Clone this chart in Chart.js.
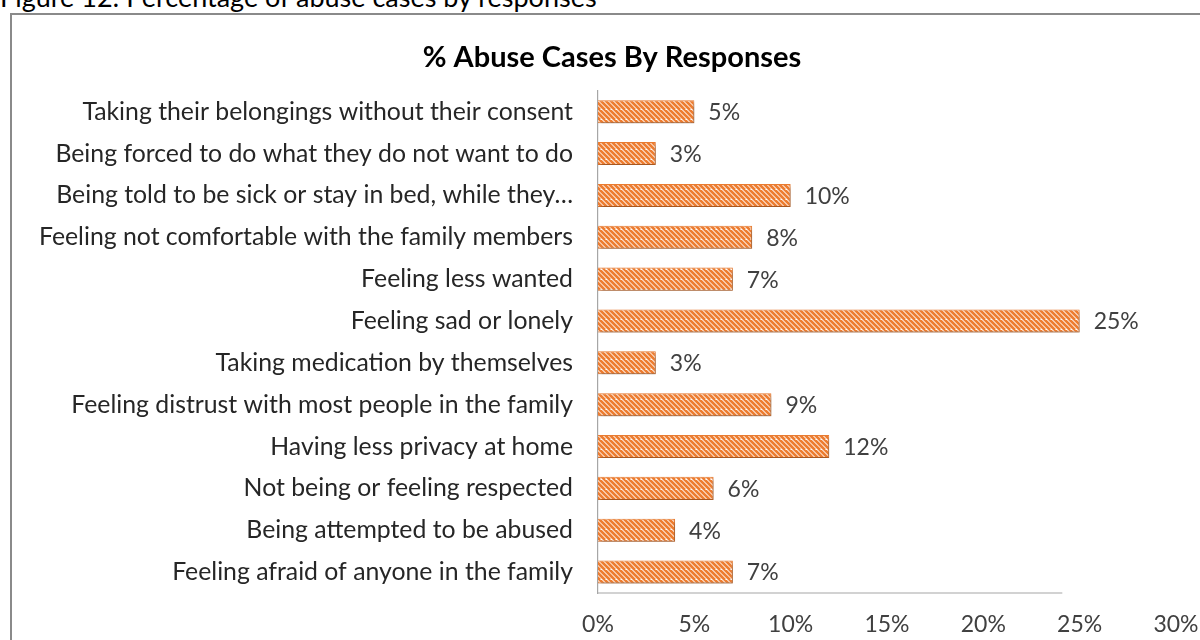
<!DOCTYPE html>
<html lang="en">
<head>
    <meta charset="UTF-8">
    <title>% Abuse Cases By Responses</title>
    <style>
        body {
            margin: 0;
            width: 1200px;
            height: 640px;
            overflow: hidden;
            background: #fff;
            position: relative;
            font-family: Lato, "Open Sans", sans-serif;
        }
        .caption {
            position: absolute;
            left: 0;
            top: -17px;
            font-size: 27px;
            line-height: 27px;
            color: #000;
            white-space: nowrap;
        }
        .frame {
            position: absolute;
            left: 10px;
            top: 13px;
            width: 1300px;
            height: 700px;
            border: 2px solid #8a8a8a;
        }
        #chart {
            position: absolute;
            left: 0;
            top: 0;
        }
    </style>
    <script src="https://cdn.jsdelivr.net/npm/chart.js"></script>
</head>
<body>
    <div class="caption">Figure 12: Percentage of abuse cases by responses</div>
    <div class="frame"></div>
    <canvas id="chart" width="1200" height="640"></canvas>

    <script>
        const categories = [
            'Taking their belongings without their consent',
            'Being forced to do what they do not want to do',
            'Being told to be sick or stay in bed, while they\u2026',
            'Feeling not comfortable with the family members',
            'Feeling less wanted',
            'Feeling sad or lonely',
            'Taking medication by themselves',
            'Feeling distrust with most people in the family',
            'Having less privacy at home',
            'Not being or feeling respected',
            'Being attempted to be abused',
            'Feeling afraid of anyone in the family'
        ];
        const percentages = [5, 3, 10, 8, 7, 25, 3, 9, 12, 6, 4, 7];
        const tickValues = [0, 5, 10, 15, 20, 25, 30];

        const orange = '#ed7d31';
        const textColor = '#404040';
        const fontFamily = 'Lato, "Open Sans", sans-serif';

        // wide downward diagonal hatch fill
        function makeHatch() {
            const size = 10;
            const c = document.createElement('canvas');
            c.width = size;
            c.height = size;
            const g = c.getContext('2d');
            g.fillStyle = '#fff';
            g.fillRect(0, 0, size, size);
            g.strokeStyle = orange;
            g.lineWidth = 2.7;
            g.beginPath();
            for (let k = -size * 2; k <= size * 2; k += size / 2) {
                g.moveTo(k, 0 - size);
                g.lineTo(k + size * 2, size);
            }
            g.stroke();
            return document.getElementById('chart').getContext('2d').createPattern(c, 'repeat');
        }

        // soft drop shadow under the bars
        const barShadow = {
            id: 'barShadow',
            beforeDatasetsDraw(chart) {
                const ctx = chart.ctx;
                ctx.save();
                ctx.shadowColor = 'rgba(0,0,0,0.35)';
                ctx.shadowBlur = 4;
                ctx.shadowOffsetX = 2;
                ctx.shadowOffsetY = 3;
            },
            afterDatasetsDraw(chart) {
                chart.ctx.restore();
            }
        };

        // value labels at the end of each bar
        const valueLabels = {
            id: 'valueLabels',
            afterDatasetsDraw(chart) {
                const ctx = chart.ctx;
                const meta = chart.getDatasetMeta(0);
                ctx.save();
                ctx.font = '23px ' + fontFamily;
                ctx.fillStyle = textColor;
                ctx.textAlign = 'left';
                ctx.textBaseline = 'middle';
                meta.data.forEach((bar, i) => {
                    ctx.fillText(percentages[i] + '%', bar.x + 14, bar.y + 1);
                });
                ctx.restore();
            }
        };

        // bottom baseline of the plot
        const baseline = {
            id: 'baseline',
            afterDraw(chart) {
                const ctx = chart.ctx;
                const x = chart.scales.x;
                const y = chart.scales.y;
                ctx.save();
                ctx.strokeStyle = '#a6a6a6';
                ctx.lineWidth = 1.2;
                ctx.beginPath();
                ctx.moveTo(x.getPixelForValue(0), y.bottom);
                ctx.lineTo(x.getPixelForValue(24.1), y.bottom);
                ctx.stroke();
                ctx.restore();
            }
        };

        new Chart(document.getElementById('chart'), {
            type: 'bar',
            data: {
                labels: categories,
                datasets: [{
                    data: percentages,
                    backgroundColor: makeHatch(),
                    borderColor: orange,
                    borderWidth: 1,
                    barPercentage: 0.55,
                    categoryPercentage: 1
                }]
            },
            options: {
                indexAxis: 'y',
                responsive: false,
                animation: false,
                layout: { padding: { top: 25, right: 0, bottom: 0, left: 24 } },
                plugins: {
                    legend: { display: false },
                    tooltip: { enabled: false },
                    title: {
                        display: true,
                        text: '% Abuse Cases By Responses',
                        color: '#000',
                        font: { family: fontFamily, size: 29, weight: 'bold' },
                        padding: { top: 15, bottom: 16 }
                    }
                },
                scales: {
                    x: {
                        min: 0,
                        max: 30,
                        afterBuildTicks(scale) {
                            scale.ticks = tickValues.map(v => ({ value: v }));
                        },
                        afterFit(scale) {
                            scale.height = 47;
                            scale.paddingRight = 24;
                        },
                        grid: { display: false, drawTicks: false },
                        border: { display: false },
                        ticks: {
                            padding: 18,
                            color: textColor,
                            font: { family: fontFamily, size: 23 },
                            callback: v => v + '%'
                        }
                    },
                    y: {
                        afterFit(scale) { scale.width = 574; },
                        grid: { display: false, drawTicks: false },
                        border: { display: true, color: '#a6a6a6', width: 1.2 },
                        ticks: {
                            padding: 25,
                            color: '#262626',
                            autoSkip: false,
                            font: { family: fontFamily, size: 24.8 }
                        }
                    }
                }
            },
            plugins: [barShadow, valueLabels, baseline]
        });
    </script>
</body>
</html>
